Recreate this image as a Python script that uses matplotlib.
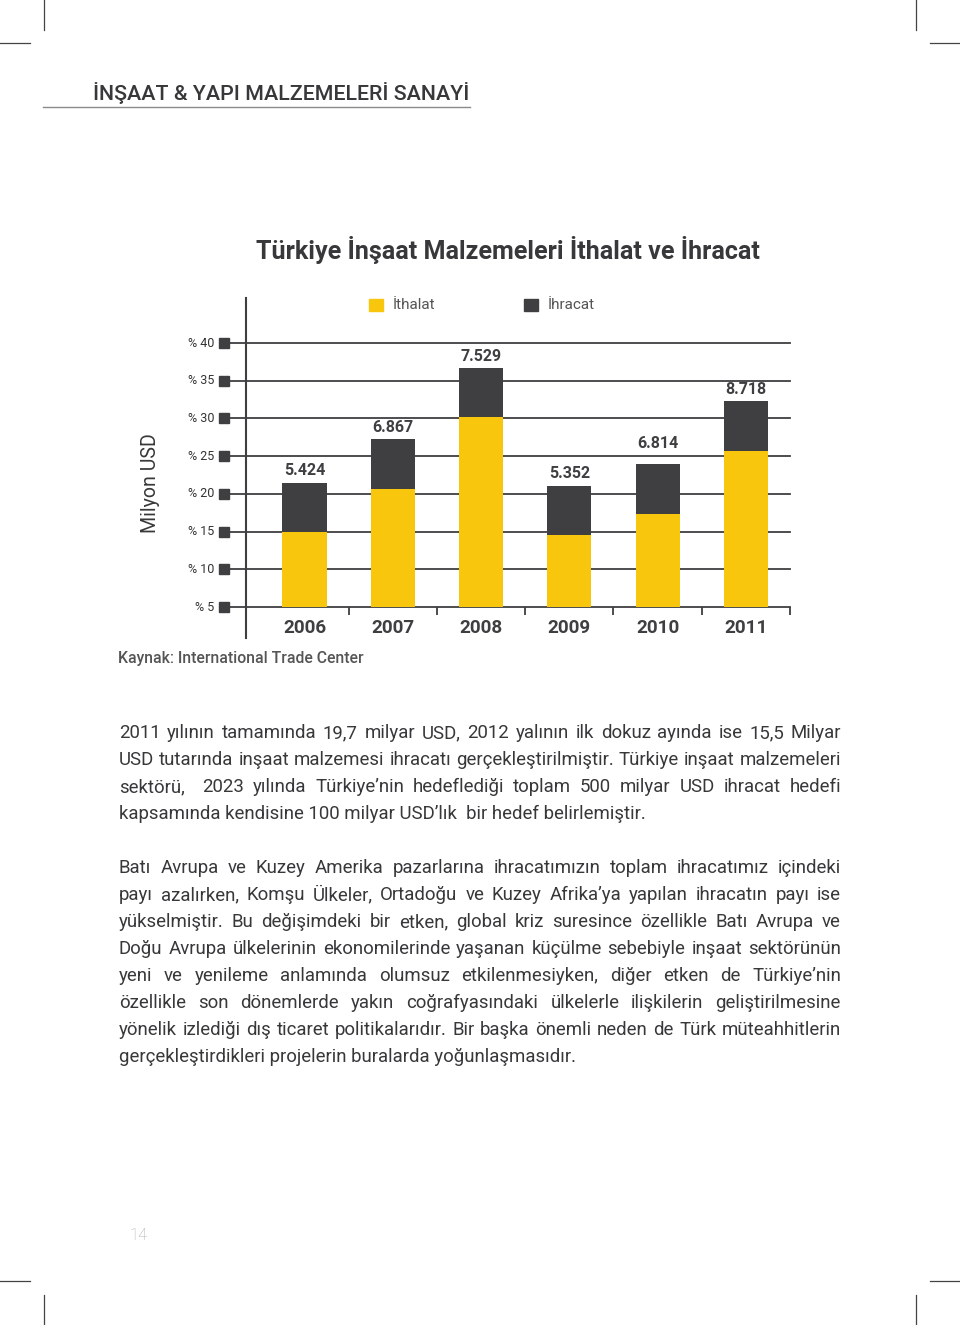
import numpy as np
import matplotlib
matplotlib.use('Agg')
import matplotlib.pyplot as plt
from matplotlib import font_manager as fm
from matplotlib.patches import Rectangle
from matplotlib.transforms import blended_transform_factory

# data (axis units of the chart, bars start at the "% 5" line)
years = ['2006', '2007', '2008', '2009', '2010', '2011']
ithalat = [10.0, 15.7, 25.2, 9.5, 12.3, 20.7]
ihracat = [6.5, 6.6, 6.5, 6.6, 6.6, 6.6]
toplam = [5424, 6867, 7529, 5352, 6814, 8718]
y_levels = [5, 10, 15, 20, 25, 30, 35, 40]
y_labels = ['% 5', '% 10', '% 15', '% 20', '% 25', '% 30', '% 35', '% 40']
base = 5

para1 = [
    "2011 yılının tamamında 19,7 milyar USD, 2012 yalının ilk dokuz ayında ise 15,5 Milyar",
    "USD tutarında inşaat malzemesi ihracatı gerçekleştirilmiştir. Türkiye inşaat malzemeleri",
    "sektörü,  2023 yılında Türkiye’nin hedeflediği toplam 500 milyar USD ihracat hedefi",
    "kapsamında kendisine 100 milyar USD’lık  bir hedef belirlemiştir.",
]
para2 = [
    "Batı Avrupa ve Kuzey Amerika pazarlarına ihracatımızın toplam ihracatımız içindeki",
    "payı azalırken, Komşu Ülkeler, Ortadoğu ve Kuzey Afrika’ya yapılan ihracatın payı ise",
    "yükselmiştir. Bu değişimdeki bir etken, global kriz suresince özellikle Batı Avrupa ve",
    "Doğu Avrupa ülkelerinin ekonomilerinde yaşanan küçülme sebebiyle inşaat sektörünün",
    "yeni ve yenileme anlamında olumsuz etkilenmesiyken, diğer etken de Türkiye’nin",
    "özellikle son dönemlerde yakın coğrafyasındaki ülkelerle ilişkilerin geliştirilmesine",
    "yönelik izlediği dış ticaret politikalarıdır. Bir başka önemli neden de Türk müteahhitlerin",
    "gerçekleştirdikleri projelerin buralarda yoğunlaşmasıdır.",
]

YELLOW = '#F9C60E'
DARK = '#3F3E41'
TXT = '#38383a'


def has_font(name):
    try:
        fm.findfont(fm.FontProperties(family=name), fallback_to_default=False)
        return True
    except Exception:
        return False


narrow = 'Liberation Sans Narrow' if has_font('Liberation Sans Narrow') else 'Roboto'
sans = 'Roboto' if has_font('Roboto') else 'DejaVu Sans'

fig = plt.figure(figsize=(9.6, 13.25), dpi=100)
renderer = fig.canvas.get_renderer()

page = fig.add_axes([0, 0, 1, 1])
page.set_xlim(0, 960)
page.set_ylim(1325, 0)
page.axis('off')


def fit(t, width):
    w = t.get_window_extent(renderer).width
    t.set_fontsize(t.get_fontsize() * width / w)
    return t


# crop marks
for xs, ys in [([44, 44], [0, 30]), ([0, 30], [43, 43]), ([916, 916], [0, 30]), ([930, 960], [43, 43]),
               ([44, 44], [1295, 1325]), ([0, 30], [1281, 1281]), ([916, 916], [1295, 1325]),
               ([930, 960], [1281, 1281])]:
    page.plot(xs, ys, color='#444444', lw=0.9)

# header
h = page.text(93, 93, 'İNŞAAT & YAPI MALZEMELERİ SANAYİ', family=narrow, fontweight='medium',
              fontsize=16, color=TXT, ha='left', va='center')
fit(h, 377)
page.plot([43, 470], [107, 107], color='#8a8a8a', lw=1.0)

# title
t = page.text(508, 250, 'Türkiye İnşaat Malzemeleri İthalat ve İhracat', family=sans,
              fontweight='bold', fontsize=18, color=TXT, ha='center', va='center')
fit(t, 505)

# legend
page.add_patch(Rectangle((369, 299), 14, 12, color=YELLOW))
page.text(393, 305, 'İthalat', family=sans, fontsize=11, color='#555555', va='center')
page.add_patch(Rectangle((524, 299), 14, 12, color=DARK))
page.text(548, 305, 'İhracat', family=sans, fontsize=11, color='#555555', va='center')

# y title
m = page.text(150, 483, 'Milyon USD', family=sans, fontsize=15, color=TXT,
              rotation=90, ha='center', va='center')
w = m.get_window_extent(renderer).height
m.set_fontsize(m.get_fontsize() * 100 / w)

# source
k = page.text(118, 658, 'Kaynak: International Trade Center', family=sans, fontweight='medium',
              fontsize=10, color='#555555', ha='left', va='center')
fit(k, 244)

# page number
page.text(130, 1236, '14', family=sans, fontsize=12, fontweight='light', color='#b0b0b0', va='center')

# chart
ax = fig.add_axes([246 / 960, 1 - 638 / 1325, 544 / 960, 340 / 1325])
ax.patch.set_visible(False)
ax.set_xlim(-0.663, 5.5)
ax.set_ylim(0.89, 45.97)
for s in ['top', 'right', 'bottom']:
    ax.spines[s].set_visible(False)
ax.spines['left'].set_color(DARK)
ax.spines['left'].set_linewidth(1.5)
ax.set_xticks([])
ax.set_yticks([])

trans = blended_transform_factory(ax.transAxes, ax.transData)
for lvl, lab in zip(y_levels, y_labels):
    ax.plot([-0.033, 1.0], [lvl, lvl], transform=trans, clip_on=False, color=DARK, lw=1.3, zorder=1)
    ax.plot(-0.041, lvl, marker='s', ms=7, color=DARK, transform=trans, clip_on=False)
    ax.text(-0.058, lvl, lab, transform=trans, ha='right', va='center', fontsize=9,
            family=sans, color='#333333')

x = np.arange(len(years))
ith = np.array(ithalat)
ihr = np.array(ihracat)
ax.bar(x, ith, 0.5, bottom=base, color=YELLOW, zorder=3)
ax.bar(x, ihr, 0.5, bottom=base + ith, color=DARK, zorder=3)

ax.vlines(x + 0.5, base - 8 / 7.543, base, color=DARK, lw=1.3, clip_on=False)

# label lifted clear of the gridline where needed (points)
label_lift = {4: 7}
vl = []
for i, v in enumerate(toplam):
    lab = f'{v:,}'.replace(',', '.')
    vl.append(ax.annotate(lab, (x[i], base + ith[i] + ihr[i]), xytext=(0, 3 + label_lift.get(i, 0)),
                          textcoords='offset points', ha='center', va='bottom',
                          family=narrow, fontweight='bold', fontsize=13, color=DARK, zorder=4))
w0 = vl[2].get_window_extent(renderer).width
fs = 13 * 41 / w0
for a in vl:
    a.set_fontsize(fs)

yl = []
for i, yr in enumerate(years):
    yl.append(ax.text(x[i], base - 21 / 7.543, yr, ha='center', va='center', family=sans,
                      fontweight='bold', fontsize=13, color=DARK))
w0 = yl[0].get_window_extent(renderer).width
fs = 13 * 43 / w0
for a in yl:
    a.set_fontsize(fs)

# body text, justified
LEFT, WIDTH = 119, 722
probe = [page.text(0, 0, ln, family=narrow, fontsize=10) for p in (para1, para2) for ln in p[:-1]]
maxw = max(p.get_window_extent(renderer).width for p in probe)
for p in probe:
    p.remove()
body_fs = 10 * (WIDTH - 2) / maxw


def paragraph(lines, y0):
    for i, line in enumerate(lines):
        y = y0 + i * 27
        if i == len(lines) - 1:
            page.text(LEFT, y, line, family=narrow, fontsize=body_fs, color=TXT, va='center')
            continue
        words = line.split(' ')
        ts = [page.text(0, y, wd, family=narrow, fontsize=body_fs, color=TXT, va='center')
              for wd in words]
        widths = [tt.get_window_extent(renderer).width if wd else 0 for tt, wd in zip(ts, words)]
        gap = (WIDTH - sum(widths)) / (len(words) - 1)
        xx = LEFT
        for tt, ww in zip(ts, widths):
            tt.set_x(xx)
            xx += ww + gap


paragraph(para1, 733)
paragraph(para2, 868)

fig.savefig('out.png', dpi=100)
